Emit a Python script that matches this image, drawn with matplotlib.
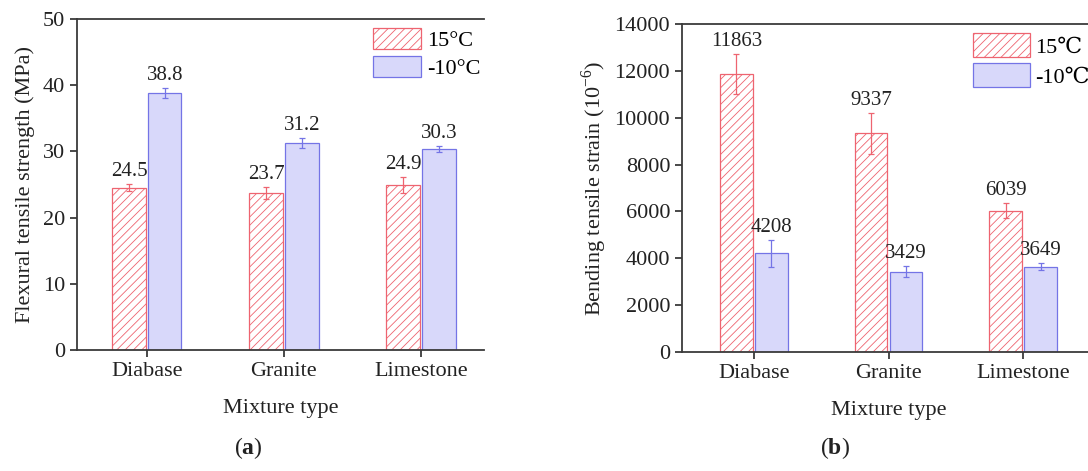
import numpy as np
import matplotlib
matplotlib.use("Agg")
import matplotlib.pyplot as plt
from matplotlib.patches import Patch

plt.rcParams["font.family"] = ["Liberation Serif", "DejaVu Serif"]
plt.rcParams["mathtext.fontset"] = "custom"
plt.rcParams["mathtext.rm"] = "Liberation Serif"
plt.rcParams["mathtext.bf"] = "Liberation Serif:bold"
plt.rcParams["hatch.linewidth"] = 0.6

# Data
mixtures = ["Diabase", "Granite", "Limestone"]

strength_15 = [24.5, 23.7, 24.9]
strength_15_err = [0.55, 0.95, 1.2]
strength_m10 = [38.8, 31.2, 30.3]
strength_m10_err = [0.8, 0.75, 0.45]

strain_15 = [11863, 9337, 6039]
strain_15_err = [850, 870, 340]
strain_m10 = [4208, 3429, 3649]
strain_m10_err = [590, 230, 140]

red = "#EE6470"
blue_face = "#D8D8FA"
blue_edge = "#7474E6"
spine = "#3a3a3a"
txt = "#222222"

fig = plt.figure(figsize=(10.88, 4.71), dpi=100)
ax1 = fig.add_axes([77 / 1088, 1 - 350 / 471, 407 / 1088, 331 / 471])
ax2 = fig.add_axes([682 / 1088, 1 - 352 / 471, 413 / 1088, 328 / 471])

x = np.arange(len(mixtures))
width = 0.245
off = 0.13


def draw(ax, v15, e15, vm10, em10, fmt):
    ax.bar(x - off, v15, width, facecolor="white", edgecolor=red, hatch="////",
           linewidth=0.9)
    ax.bar(x + off, vm10, width, facecolor=blue_face, edgecolor=blue_edge,
           linewidth=0.9)
    ax.errorbar(x - off, v15, yerr=e15, fmt="none", ecolor=red, elinewidth=0.9,
                capsize=2.5, capthick=0.9)
    ax.errorbar(x + off, vm10, yerr=em10, fmt="none", ecolor=blue_edge,
                elinewidth=0.9, capsize=2.5, capthick=0.9)
    for xi, v, e in zip(x - off, v15, e15):
        ax.annotate(fmt.format(v), (xi, v + e), xytext=(0, 9),
                    textcoords="offset points", ha="center", va="center",
                    fontsize=15, color=txt)
    for xi, v, e in zip(x + off, vm10, em10):
        ax.annotate(fmt.format(v), (xi, v + e), xytext=(0, 9),
                    textcoords="offset points", ha="center", va="center",
                    fontsize=15, color=txt)
    ax.set_xticks(x)
    ax.set_xticklabels(mixtures)
    ax.set_xlabel("Mixture type", fontsize=16, color=txt, labelpad=13)
    ax.spines["right"].set_visible(False)
    for s in ["left", "bottom", "top"]:
        ax.spines[s].set_color(spine)
        ax.spines[s].set_linewidth(1.3)
    ax.tick_params(direction="out", length=5, width=1.3, color=spine,
                   labelsize=16, labelcolor=txt)
    handles = [Patch(facecolor="white", edgecolor=red, hatch="////", linewidth=0.9),
               Patch(facecolor=blue_face, edgecolor=blue_edge, linewidth=0.9)]
    return handles


h = draw(ax1, strength_15, strength_15_err, strength_m10, strength_m10_err,
         "{:.1f}")
ax1.set_xlim(-0.51, 2.46)
ax1.set_ylim(0, 50)
ax1.set_yticks(np.arange(0, 51, 10))
ax1.set_ylabel("Flexural tensile strength (MPa)", fontsize=16, color=txt,
               labelpad=6)
ax1.legend(h, ["15°C", "-10°C"], loc="upper left", frameon=False,
           fontsize=16, handlelength=2.15, handleheight=1.08, handletextpad=0.3,
           labelspacing=0.22, borderpad=0, borderaxespad=0,
           bbox_to_anchor=(0.727, 1 - 9 / 331))

h = draw(ax2, strain_15, strain_15_err, strain_m10, strain_m10_err, "{:d}")
ax2.set_xlim(-0.535, 2.535)
ax2.set_ylim(0, 14000)
ax2.set_yticks(np.arange(0, 14001, 2000))
ax2.set_ylabel("Bending tensile strain (10$^{-6}$)", fontsize=16,
               color=txt, labelpad=4)
ax2.legend(h, ["15℃", "-10℃"], loc="upper left", frameon=False,
           fontsize=16, handlelength=2.57, handleheight=1.3, handletextpad=0.2,
           labelspacing=0.25, borderpad=0, borderaxespad=0,
           bbox_to_anchor=(0.705, 1 - 9 / 328))

fig.text(248 / 1088, 1 - 448 / 471, r"($\mathbf{a}$)", ha="center",
         va="center", fontsize=17, color=txt)
fig.text(835 / 1088, 1 - 448 / 471, r"($\mathbf{b}$)", ha="center",
         va="center", fontsize=17, color=txt)

fig.savefig("out.png", dpi=100)
